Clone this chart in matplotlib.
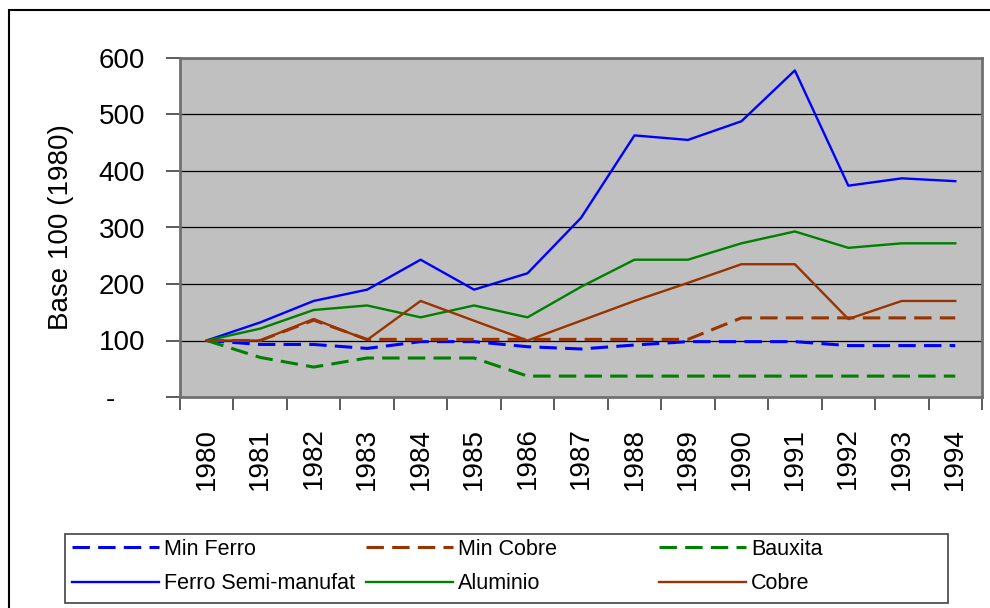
import numpy as np
import matplotlib
matplotlib.use("Agg")
import matplotlib.pyplot as plt
from matplotlib.patches import Rectangle
from matplotlib.transforms import ScaledTranslation

plt.rcParams['font.family'] = ['Liberation Sans', 'DejaVu Sans']

years = ['1980', '1981', '1982', '1983', '1984', '1985', '1986', '1987',
         '1988', '1989', '1990', '1991', '1992', '1993', '1994']

min_ferro = [100, 93, 93, 86, 98, 98, 89, 85, 92, 98, 98, 98, 91, 91, 91]
min_cobre = [100, 100, 136, 102, 102, 102, 102, 102, 102, 102, 140, 140, 140, 140, 140]
bauxita = [100, 70, 53, 69, 69, 69, 37, 37, 37, 37, 37, 37, 37, 37, 37]
ferro_semi = [100, 132, 170, 190, 243, 190, 219, 317, 463, 455, 488, 578, 374, 387, 382]
aluminio = [100, 121, 154, 162, 141, 162, 141, 195, 243, 243, 272, 293, 264, 272, 272]
cobre = [100, 100, 138, 101, 170, 135, 100, 135, 170, 202, 235, 235, 138, 170, 170]

BLUE = '#0000FF'
BROWN = '#993300'
GREEN = '#008000'

fig = plt.figure(figsize=(9.9, 6.08), dpi=100)
ax = fig.add_axes([180 / 990, 1 - 397 / 608, (982 - 180) / 990, (397 - 58) / 608])
ax.set_facecolor('#C0C0C0')

x = np.arange(len(years))
dash = (5.7, 2.7)
series = [
    (min_ferro, 'Min Ferro', BLUE, True),
    (min_cobre, 'Min Cobre', BROWN, True),
    (bauxita, 'Bauxita', GREEN, True),
    (ferro_semi, 'Ferro Semi-manufat', BLUE, False),
    (aluminio, 'Aluminio', GREEN, False),
    (cobre, 'Cobre', BROWN, False),
]
handles = []
for vals, name, col, dashed in series:
    if dashed:
        ln, = ax.plot(x, vals, color=col, lw=2.2, dashes=dash, label=name)
    else:
        ln, = ax.plot(x, vals, color=col, lw=1.7, label=name)
    handles.append(ln)

# y axis
ax.set_ylim(0, 600)
yt = [0, 100, 200, 300, 400, 500, 600]
ax.set_yticks(yt)
ax.set_yticklabels(['-'] + [str(v) for v in yt[1:]])
for v in yt[1:]:
    ax.axhline(v, color='black', lw=0.9, zorder=1)
ax.set_ylabel('Base 100 (1980)', fontsize=20, labelpad=18)

# x axis: ticks between categories, labels at category centres
ax.set_xlim(-0.5, len(years) - 0.5)
ax.set_xticks(np.arange(-0.5, len(years), 1.0))
ax.set_xticklabels([])
ax.set_xticks(x, minor=True)
ax.set_xticklabels(years, minor=True, rotation=90, fontsize=20)
ax.tick_params(axis='x', which='major', direction='out', length=9, width=1.2, color='#404040')
ax.tick_params(axis='x', which='minor', length=0, pad=22)
ax.tick_params(axis='y', direction='out', length=10, width=1.2, color='#404040', labelsize=20, pad=15)

# the zero label ("-") sits further left, accounting-format style
zero_lbl = ax.get_yticklabels()[0]
zero_lbl.set_transform(zero_lbl.get_transform() + ScaledTranslation(-0.30, 0, fig.dpi_scale_trans))

for s in ax.spines.values():
    s.set_color('#707070')
    s.set_linewidth(2)

# legend: three fixed-width columns inside one box
col_x = [72, 366, 659]
leg_top = 539
for i, cx in enumerate(col_x):
    lg = fig.legend([handles[i], handles[i + 3]], [series[i][1], series[i + 3][1]],
                    loc='upper left', bbox_to_anchor=(cx / 990, 1 - leg_top / 608),
                    frameon=False, fontsize=15.5, handlelength=4.05, handletextpad=0.22,
                    labelspacing=0.62, borderpad=0, borderaxespad=0)
fig.patches.append(Rectangle((65 / 990, 1 - 603 / 608), (948 - 65) / 990, (603 - 534) / 608,
                             transform=fig.transFigure, fill=False, edgecolor='#505050', lw=1.3))

# outer chart frame
fig.patches.append(Rectangle((9 / 990, -0.05), 1.0, 1.05 - 10 / 608,
                             transform=fig.transFigure, fill=False, edgecolor='black', lw=1.5))

fig.savefig('out.png', dpi=100)
